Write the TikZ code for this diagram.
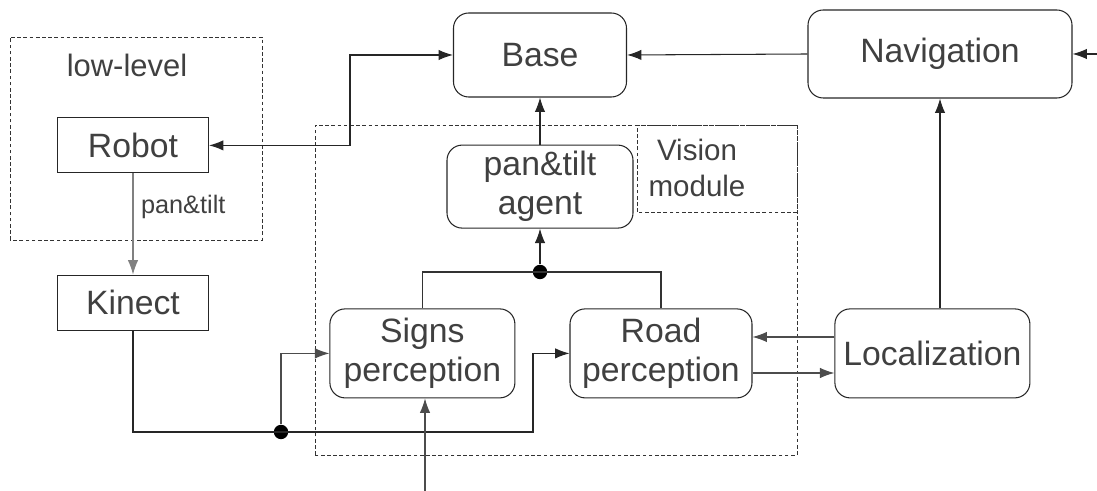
\documentclass[tikz,border=0pt]{standalone}
\usepackage{fontspec}
\setmainfont{Liberation Sans}
\usetikzlibrary{arrows.meta,calc,positioning}

\begin{document}
\begin{tikzpicture}[every node/.style={font=\fontsize{24}{28}\selectfont,text=black!75,align=center},
    line width=.75pt,>={Latex[length=3.6mm,width=2.6mm]},
    block/.style={draw=black!85,rounded corners=.38cm,inner sep=0},
    plainbox/.style={draw=black!85,inner sep=0,minimum width=3.775cm,minimum height=1.375cm},
    frame/.style={draw=black!80,line width=.6pt,dash pattern=on 2.6pt off 1.8pt},
    link/.style={draw=black!85,->},
    junction/.style={circle,fill=black,inner sep=0,minimum size=.36cm}]

    \useasboundingbox (0,0) rectangle (27.425,12.275);

    % low-level part
    \draw[frame] (0.25,6.275) rectangle (6.55,11.35);
    \node[font=\fontsize{22}{26}\selectfont] (lowlvl) at (3.175,10.65) {low-level};
    \node[plainbox] (robot) at (3.325,8.64) {Robot};
    \node[plainbox] (kinect) at (3.325,4.71) {Kinect};

    % vision module
    \draw[frame] (7.875,0.9) rectangle (19.925,9.15);
    \draw[frame] (15.925,6.975) rectangle (19.925,9.15);
    \node[font=\fontsize{21}{26}\selectfont] (vislbl) at (17.425,8.075) {Vision\\module};
    \node[block,minimum width=4.65cm,minimum height=2.075cm] (agent) at (13.5,7.61) {pan\&tilt\\agent};
    \node[block,minimum width=4.625cm,minimum height=2.225cm] (signs) at (10.56,3.44) {Signs\\perception};
    \node[block,minimum width=4.55cm,minimum height=2.225cm] (road) at (16.525,3.44) {Road\\perception};

    % upper row and localization
    \node[block,minimum width=4.325cm,minimum height=2.1cm] (base) at (13.5,10.9) {Base};
    \node[block,minimum width=6.6cm,minimum height=2.2cm] (nav) at (23.5,10.925) {Navigation};
    \node[block,minimum width=4.875cm,minimum height=2.225cm] (loc) at (23.31,3.44) {Localization};

    \node[junction] (merge) at (13.5,5.475) {};
    \node[junction] (split) at (7.025,1.475) {};
    \coordinate (navin) at (27.425,10.925);
    \coordinate (camin) at (10.625,0);

    % connectors
    \draw[link] (navin) -- (nav.east);
    \draw[link] (nav.west) -- (base.east);
    \draw[<->,draw=black!85] (robot.east) -| (8.75,10.9) -- (base.west);
    \draw[->,draw=black!50] (robot.south) -- (kinect.north)
        node[pos=.33,right=2pt,font=\fontsize{18}{22}\selectfont] (ptlbl) {pan\&tilt};
    \draw[link] (agent.north) -- (base.south);
    \draw[draw=black!80] (signs.north) |- (merge.center) -| (road.north);
    \draw[link] (merge) -- (agent.south);
    \draw[link] (nav.south |- loc.north) -- (nav.south);
    \draw[->,draw=black!70] ($(loc.west)+(0,.41)$) -- ($(road.east)+(0,.41)$);
    \draw[->,draw=black!70] ($(road.east)+(0,-.49)$) -- ($(loc.west)+(0,-.49)$);
    \draw[link] (kinect.south) |- (split.center) -- (13.325,1.475) |- (road.west);
    \draw[->,draw=black!70] (split) |- (signs.west);
    \draw[->,draw=black!70] (camin) -- (camin |- signs.south);
\end{tikzpicture}
\end{document}
